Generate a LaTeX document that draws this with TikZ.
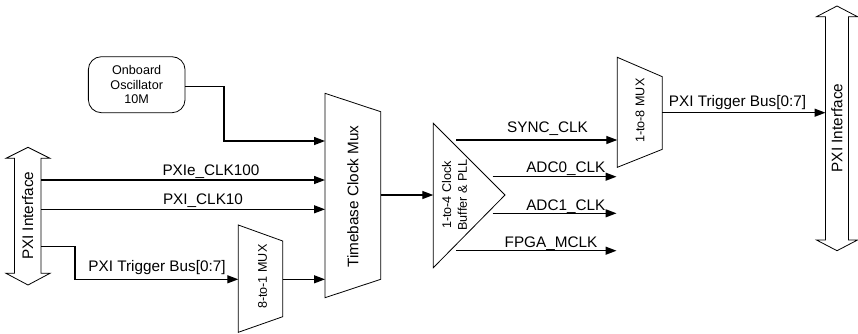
\documentclass[tikz,border=0pt]{standalone}
\usepackage{fontspec}
\setmainfont{Liberation Sans}
\usetikzlibrary{arrows.meta}
\begin{document}
\begin{tikzpicture}[x=1pt,y=-1pt,
  conn/.style={draw, line width=1.3pt, -{Triangle[length=11pt,width=8pt]}},
  shapeline/.style={draw, line width=0.8pt},
  lbl/.style={font=\fontsize{15.3}{17}\selectfont, inner sep=0pt, anchor=base},
  small/.style={font=\fontsize{12.6}{15.6}\selectfont, align=center, inner sep=0pt},
  big/.style={font=\fontsize{15.3}{17}\selectfont, inner sep=0pt}]
\useasboundingbox (0,0) rectangle (858,333);

% left PXI interface
\draw[shapeline] (28,147.3) -- (50,158.3) -- (41,158.3) -- (41,273.3) -- (50,273.3) -- (28,285)
  -- (6,273.3) -- (14.5,273.3) -- (14.5,158.3) -- (6,158.3) -- cycle;
\node[big, rotate=90] (pxil) at (27.7,215.7) {PXI Interface};
\coordinate (l1) at (41,180);
\coordinate (l2) at (41,209.3);
\coordinate (l3) at (41,246.7);

% oscillator
\node[shapeline, rounded corners=13pt, minimum width=96.7pt, minimum height=56pt,
      small, font=\fontsize{12.6}{14.5}\selectfont] (osc) at (136.7,84.7) {Onboard\\Oscillator\\10M};
\coordinate (oscout) at (185,86.7);

% timebase mux
\draw[shapeline] (325,93.3) -- (380.7,111.7) -- (380.7,279.3) -- (325,297.7) -- cycle;
\node[big, rotate=90] (tbtxt) at (353,196.5) {Timebase Clock Mux};
\coordinate (tb1) at (325,141);
\coordinate (tb2) at (325,180);
\coordinate (tb3) at (325,209.3);
\coordinate (tb4) at (325,279.3);
\coordinate (tbo) at (380.7,195);

% 8-to-1 mux
\draw[shapeline] (238.3,225) -- (282.7,241) -- (282.7,316.7) -- (238.3,332.3) -- cycle;
\node[small, rotate=90] (m8txt) at (262.5,276.7) {8-to-1 MUX};
\coordinate (m8i) at (238.3,279.3);
\coordinate (m8o) at (282.7,279.3);

% clock buffer triangle
\draw[shapeline] (433.3,123.3) -- (505,195) -- (433.3,267.7) -- cycle;
\node[small, rotate=90] (buftxt) at (454.5,195) {1-to-4 Clock\\Buffer \& PLL};
\coordinate (bin) at (433.3,195);
\coordinate (bo1) at (456,140);
\coordinate (bo2) at (492.7,176.7);
\coordinate (bo3) at (492.7,213.3);
\coordinate (bo4) at (456,250.7);

% 1-to-8 mux
\draw[shapeline] (617.3,57.3) -- (662.3,76.7) -- (662.3,149.3) -- (617.3,167.3) -- cycle;
\node[small, rotate=90] (m1txt) at (640,110.7) {1-to-8 MUX};
\coordinate (m1i) at (617.3,140);
\coordinate (m1o) at (662.3,112.7);

% end points of clock outputs
\coordinate (e2) at (616.5,176.7);
\coordinate (e3) at (616.5,213.3);
\coordinate (e4) at (616.5,250.7);

% right PXI interface
\draw[shapeline] (837,6) -- (857.5,16.7) -- (848.5,16.7) -- (848.5,240) -- (857.5,240) -- (837,250.7)
  -- (816.5,240) -- (825.5,240) -- (825.5,16.7) -- (816.5,16.7) -- cycle;
\node[big, rotate=90] (pxir) at (837,128) {PXI Interface};
\coordinate (rin) at (825.5,112.7);

% connectors
\draw[conn] (oscout) -- (224,86.7) |- (tb1);
\draw[conn] (l1) -- (tb2);
\draw[conn] (l2) -- (tb3);
\draw[conn] (l3) -- (75,246.7) |- (m8i);
\draw[conn] (m8o) -- (tb4);
\draw[conn] (tbo) -- (bin);
\draw[conn] (bo1) -- (m1i);
\draw[conn] (bo2) -- (e2);
\draw[conn] (bo3) -- (e3);
\draw[conn] (bo4) -- (e4);
\draw[conn] (m1o) -- (rin);

% labels
\node[lbl] (t1) at (211,175) {PXIe\_CLK100};
\node[lbl] (t2) at (203,204) {PXI\_CLK10};
\node[lbl] (t3) at (157,271.5) {PXI Trigger Bus[0:7]};
\node[lbl] (t4) at (737.5,106) {PXI Trigger Bus[0:7]};
\node[lbl] (t5) at (547.5,132.3) {SYNC\_CLK};
\node[lbl] (t6) at (565.8,172.7) {ADC0\_CLK};
\node[lbl] (t7) at (565.8,210) {ADC1\_CLK};
\node[lbl] (t8) at (551,247.3) {FPGA\_MCLK};
\end{tikzpicture}
\end{document}
